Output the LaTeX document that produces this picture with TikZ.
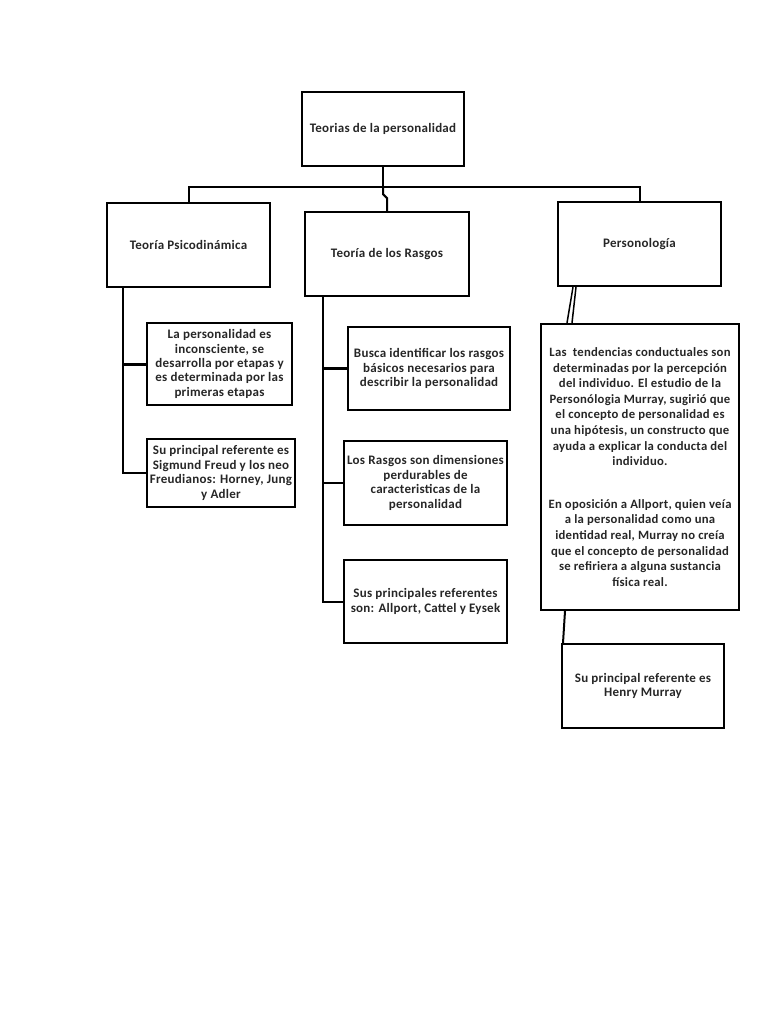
\documentclass[tikz,border=0pt]{standalone}
\usepackage{fontspec}
\setmainfont{Carlito}[LetterSpace=2]
\usepackage{tikz}
\usetikzlibrary{positioning}

\begin{document}
\begin{tikzpicture}[x=1pt, y=-1pt,
    font=\bfseries\fontsize{13}{14.4}\selectfont,
    box/.style={draw, line width=2.2pt, align=center, inner sep=2pt, text=black!85},
    link/.style={line width=2pt}]
    \useasboundingbox (0,0) rectangle (768,1024);
    % top level
    \node[box, minimum width=162pt, minimum height=74pt] (root) at (383,129)
      {Teorias de la personalidad};
    \node[box, minimum width=163pt, minimum height=84pt] (psico) at (188.5,245)
      {Teoría Psicodinámica};
    \node[box, minimum width=164pt, minimum height=84pt] (rasgos) at (387,254)
      {Teoría de los Rasgos};
    \node[box, minimum width=163pt, minimum height=84pt] (perso) at (639.5,244)
      {Personología};
    \draw[link] (root.south) -- ++(0,20) coordinate (bus);
    \draw[link] (psico.north) |- (bus) -| (perso.north);
    \draw[link] (bus) -- ++(0,7) -- ++(4,4) -- (rasgos.north);
    % left column
    \node[box, minimum width=145pt, minimum height=82pt] (psicoa) at (219.5,364)
      {La personalidad es\\ inconsciente, se\\ desarrolla por etapas y\\
       es determinada por las\\ primeras etapas};
    \node[box, minimum width=148pt, minimum height=68pt] (psicob) at (221,473)
      {Su principal referente es\\ Sigmund Freud y los neo\\
       Freudianos: Horney, Jung\\ y Adler};
    \coordinate (ltop) at (123,287);
    \draw[link] (ltop) |- (psicob.west);
    \draw[link, line width=3pt] (ltop |- psicoa.west) -- (psicoa.west);
    % middle column
    \node[box, minimum width=162pt, minimum height=83pt] (rasgosa) at (429,368.5)
      {Busca identificar los rasgos\\ básicos necesarios para\\ describir la personalidad};
    \node[box, minimum width=163pt, minimum height=84pt] (rasgosb) at (425.5,483)
      {Los Rasgos son dimensiones\\ perdurables de\\ caracteristicas de la\\ personalidad};
    \node[box, minimum width=163pt, minimum height=83pt] (rasgosc) at (425.5,601.5)
      {Sus principales referentes\\ son: Allport, Cattel y Eysek};
    \coordinate (mtop) at (323,296);
    \draw[link] (mtop) |- (rasgosc.west);
    \draw[link, line width=3pt] (mtop |- rasgosa.west) -- (rasgosa.west);
    \draw[link] (mtop |- rasgosb.west) -- (rasgosb.west);
    % right column
    \node[box, minimum width=198pt, minimum height=286pt,
      font=\bfseries\fontsize{12.7}{15.6}\selectfont] (persoa) at (640,467)
      {Las \ tendencias conductuales son\\ determinadas por la percepción\\
       del individuo. El estudio de la\\ Personólogia Murray, sugirió que\\
       el concepto de personalidad es\\ una hipótesis, un constructo que\\
       ayuda a explicar la conducta del\\ individuo.\\[27pt]
       En oposición a Allport, quien veía\\ a la personalidad como una\\
       identidad real, Murray no creía\\ que el concepto de personalidad\\
       se refiriera a alguna sustancia\\ física real.};
    \node[box, minimum width=162pt, minimum height=84pt] (persob) at (643,686)
      {Su principal referente es\\ Henry Murray};
    \draw[link, line width=1.5pt] ([xshift=-66.5pt]perso.south) -- ([xshift=-73pt]persoa.north);
    \draw[link, line width=1.5pt] ([xshift=-63.5pt]perso.south) -- ([xshift=-68pt]persoa.north);
    \draw[link] ([xshift=-75pt]persoa.south) -- ([xshift=-80pt]persob.north);
  \end{tikzpicture}
\end{document}
